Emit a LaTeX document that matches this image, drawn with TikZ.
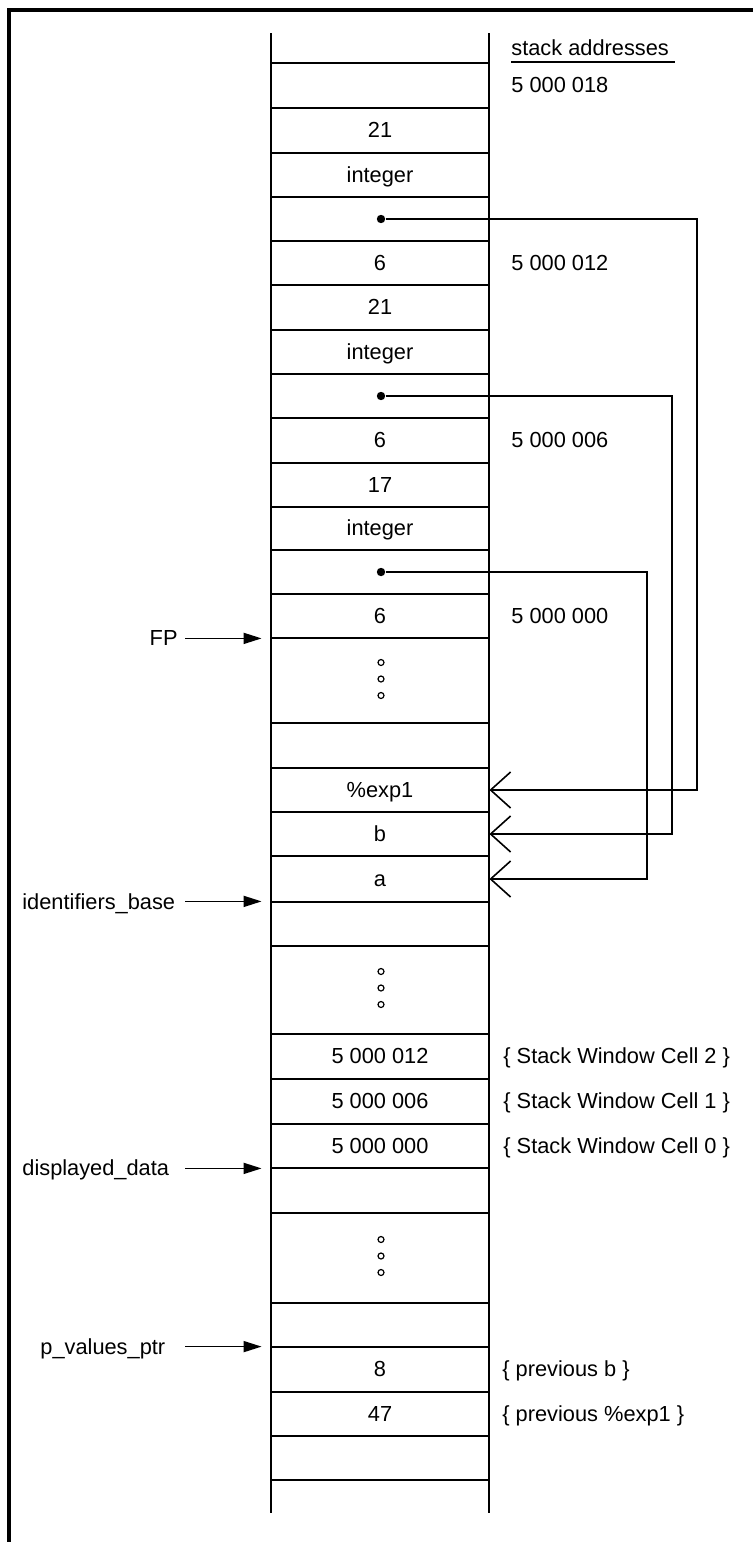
\documentclass[tikz,border=0pt]{standalone}
\usepackage{fontspec}
\setmainfont{Liberation Sans}
\usetikzlibrary{arrows.meta}

\begin{document}
\begin{tikzpicture}[x=0.5pt, y=-0.5pt,
  txtnode/.style={font=\fontsize{10.9}{13}\selectfont, inner sep=0pt, text height=7.8pt, text depth=0pt},
  cellnode/.style={txtnode, minimum width=109pt, minimum height=22pt},
  addrnode/.style={txtnode, anchor=west},
  dotnode/.style={shape=circle, fill=black, inner sep=0pt, minimum size=4.2pt},
  linkline/.style={line width=0.8pt, -{Straight Barb[length=10pt, width=18pt]}},
  ptrline/.style={line width=0.8pt, -{Triangle[length=9pt, width=5.5pt]}},
]
\useasboundingbox (0,0) rectangle (753,1542);
%%%frame
\draw[line width=1.6pt] (9,1542) -- (9,10) -- (753,10);
%%%stack column
\draw[line width=1pt] (271,33) -- (271,1513) (489,33) -- (489,1513);
\foreach \y in {63,108,153,197,241,285,330,374,418,463,507,550,594,723,768,812,856,946,1034,1079,1124,1213,1303,1347,1392,1436,1480}
  \draw[line width=0.9pt] (271,\y) -- (489,\y);
\foreach \y in {638,902,1168}
  \draw[line width=1.4pt] (271,\y) -- (489,\y);
%%%%%%%%%

%%%header
\node[txtnode, anchor=base west] (hdr) at (511,55) {stack addresses};
\draw[line width=0.8pt] ([yshift=-3.5pt]hdr.base west) -- ([xshift=3pt, yshift=-3.5pt]hdr.base east);
\node[addrnode] (ad18) at (511,85) {5 000 018};
\node[addrnode] (ad12) at (511,263) {5 000 012};
\node[addrnode] (ad06) at (511,440) {5 000 006};
\node[addrnode] (ad00) at (511,616) {5 000 000};

%%%cells
\node[cellnode] (valc) at (380,130) {21};
\node[cellnode] (typc) at (380,175) {integer};
\node[dotnode] (ptrc) at (381,219) {};
\node[cellnode] (sizc) at (380,263) {6};
\node[cellnode] (valb) at (380,307) {21};
\node[cellnode] (typb) at (380,352) {integer};
\node[dotnode] (ptrb) at (381,396) {};
\node[cellnode] (sizb) at (380,440) {6};
\node[cellnode] (vala) at (380,485) {17};
\node[cellnode] (typa) at (380,528) {integer};
\node[dotnode] (ptra) at (381,572) {};
\node[cellnode] (siza) at (380,616) {6};
\node[cellnode] (idexp) at (380,790) {\%exp1};
\node[cellnode] (idb) at (380,834) {b};
\node[cellnode] (ida) at (380,879) {a};
\node[cellnode] (win2) at (380,1056) {5 000 012};
\node[cellnode] (win1) at (380,1101) {5 000 006};
\node[cellnode] (win0) at (380,1146) {5 000 000};
\node[cellnode] (prevb) at (380,1369) {8};
\node[cellnode] (prevexp) at (380,1414) {47};

%%%ellipsis dots
\foreach \c in {679,988,1256}
  \foreach \d in {-16.5,0,16.5}
    \draw[line width=0.6pt] (381,\c+\d) circle (1.5pt);

%%%comments
\node[addrnode] (cm2) at (503,1056) {\{ Stack Window Cell 2 \}};
\node[addrnode] (cm1) at (503,1101) {\{ Stack Window Cell 1 \}};
\node[addrnode] (cm0) at (503,1146) {\{ Stack Window Cell 0 \}};
\node[addrnode] (cmb) at (502,1369) {\{ previous b \}};
\node[addrnode] (cmexp) at (502,1414) {\{ previous \%exp1 \}};

%%%links to identifiers
\draw[linkline] (ptrc) -- ++(316,0) |- (idexp.east);
\draw[linkline] (ptrb) -- ++(291,0) |- (idb.east);
\draw[linkline] (ptra) -- ++(266,0) |- (ida.east);

%%%pointers
\coordinate (tail) at (185,0);
\node[txtnode, anchor=east] (fp) at (178,638) {FP};
\node[addrnode] (idbase) at (22,902) {identifiers\_base};
\node[addrnode] (ddata) at (22,1168) {displayed\_data};
\node[addrnode] (pvals) at (40,1347) {p\_values\_ptr};
\draw[ptrline] (tail |- siza.south west) -- ([xshift=-4.5pt]siza.south west);
\draw[ptrline] (tail |- ida.south west) -- ([xshift=-4.5pt]ida.south west);
\draw[ptrline] (tail |- win0.south west) -- ([xshift=-4.5pt]win0.south west);
\draw[ptrline] (tail |- prevb.north west) -- ([xshift=-4.5pt]prevb.north west);

\end{tikzpicture}
\end{document}
